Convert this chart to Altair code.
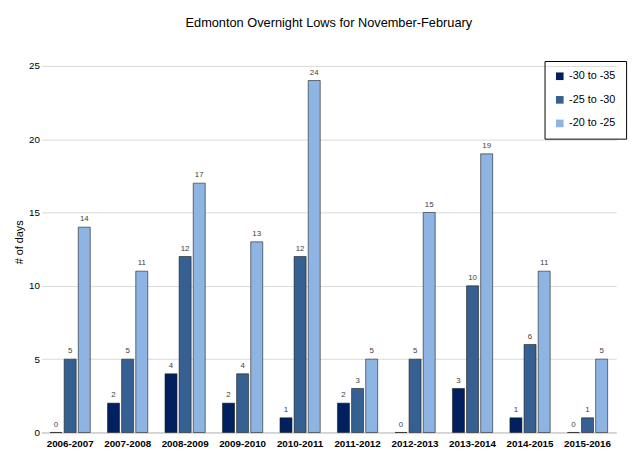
import altair as alt
import pandas as pd

seasons = ["2006-2007", "2007-2008", "2008-2009", "2009-2010", "2010-2011",
           "2011-2012", "2012-2013", "2013-2014", "2014-2015", "2015-2016"]
series = ["-30 to -35", "-25 to -30", "-20 to -25"]
v30_35 = [0, 2, 4, 2, 1, 2, 0, 3, 1, 0]
v25_30 = [5, 5, 12, 4, 12, 3, 5, 10, 6, 1]
v20_25 = [14, 11, 17, 13, 24, 5, 15, 19, 11, 5]
colors = ["#002060", "#366092", "#8DB4E2"]

rows = []
for name, vals in zip(series, [v30_35, v25_30, v20_25]):
    for s, v in zip(seasons, vals):
        rows.append({"Season": s, "Range": name, "Days": v})
df = pd.DataFrame(rows)

font = "Liberation Sans"
x = alt.X("Season:N", sort=seasons, title=None,
          scale=alt.Scale(paddingInner=0.3, paddingOuter=0.15),
          axis=alt.Axis(labelAngle=0, labelFontSize=10, labelFontWeight="bold",
                        labelColor="#000", ticks=False, domainColor="#bfbfbf",
                        labelFont=font, labelPadding=6))
xo = alt.XOffset("Range:N", sort=series, scale=alt.Scale(paddingInner=0.15))

bars = alt.Chart(df).mark_bar(stroke="#1a1a1a", strokeWidth=0.6).encode(
    x=x, xOffset=xo,
    y=alt.Y("Days:Q", title="# of days",
            scale=alt.Scale(domain=[0, 25]),
            axis=alt.Axis(values=list(range(0, 26, 5)), gridColor="#d9d9d9",
                          domain=False, ticks=False, labelFontSize=10,
                          labelColor="#000", titleFontWeight="normal",
                          titleFontSize=11, labelFont=font, titleFont=font)),
    color=alt.Color("Range:N", sort=series, title=None,
                    scale=alt.Scale(domain=series, range=colors),
                    legend=alt.Legend(orient="none", legendX=512, legendY=10,
                                      symbolType="square", symbolSize=60,
                                      labelFontSize=11, labelFont=font,
                                      rowPadding=12, padding=10,
                                      strokeColor="#000", symbolStrokeWidth=0)),
)

labels = alt.Chart(df).mark_text(dy=-8, fontSize=8, color="#404040", font=font).encode(
    x=x, xOffset=xo, y="Days:Q", text="Days:Q")

chart = (bars + labels).properties(
    width=585, height=388,
    title=alt.Title("Edmonton Overnight Lows for November-February",
                    fontSize=13, fontWeight="normal", font=font, offset=22),
).configure_view(stroke=None)

chart.save("out.html", embed_options={"renderer": "svg", "actions": False})
